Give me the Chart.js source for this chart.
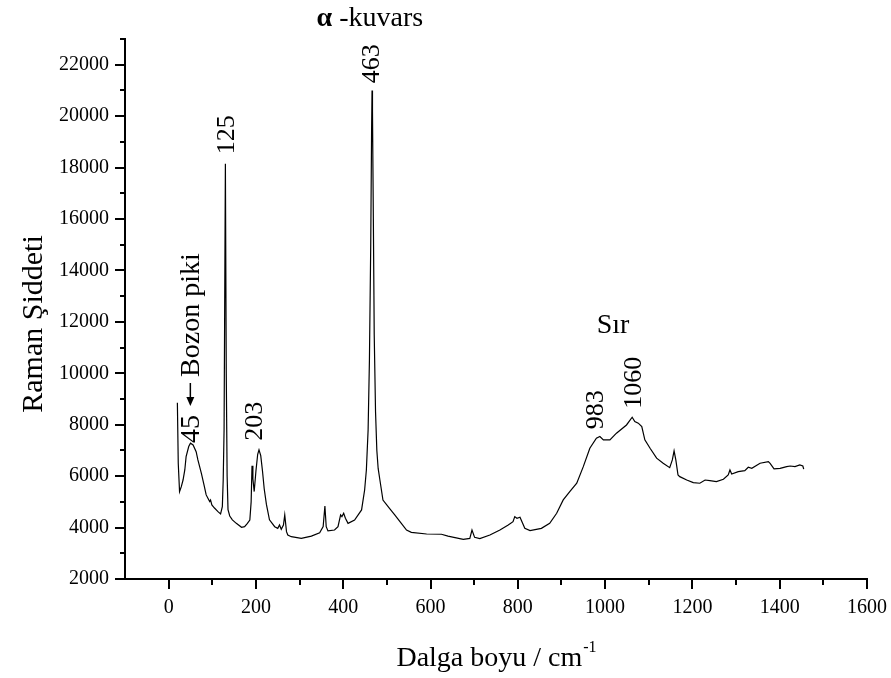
<!DOCTYPE html>
<html>
<head>
<meta charset="utf-8">
<script src="https://cdn.jsdelivr.net/npm/chart.js@4.4.0/dist/chart.umd.min.js"></script>
<style>
  body { margin: 0; background: #fff; }
  #wrap { width: 891px; height: 678px; }
</style>
</head>
<body>
<div id="wrap"><canvas id="raman" width="891" height="678"></canvas></div>
<script>
// Raman spectrum
const wavenumber = [
  20, 22, 25, 29, 33, 37, 40, 46, 50, 56,
  63, 67, 75, 81, 86, 90, 94, 96, 99, 105,
  113, 119, 123, 125, 127, 130, 132, 134, 136, 140,
  146, 155, 167, 174, 180, 186, 189, 191, 193, 196,
  200, 204, 207, 211, 215, 219, 224, 231, 243, 250,
  254, 258, 263, 266, 270, 273, 281, 304, 327, 346,
  354, 358, 361, 365, 380, 388, 394, 397, 401, 405,
  411, 426, 442, 449, 453, 457, 460, 463, 465, 466,
  467, 469, 471, 474, 477, 480, 484, 491, 506, 518,
  530, 545, 556, 591, 625, 640, 675, 690, 695, 701,
  713, 736, 759, 778, 789, 793, 798, 805, 811, 816,
  828, 854, 873, 889, 904, 919, 935, 950, 965, 980,
  988, 996, 1011, 1026, 1049, 1062, 1068, 1076, 1084, 1091,
  1103, 1118, 1133, 1148, 1154, 1158, 1162, 1167, 1171, 1187,
  1202, 1217, 1229, 1240, 1255, 1271, 1282, 1286, 1290, 1305,
  1320, 1328, 1336, 1355, 1374, 1378, 1387, 1401, 1416, 1424,
  1435, 1446, 1453, 1455
];
const intensity = [
  8850, 6500, 5400, 5590, 5850, 6240, 6760, 7150, 7280, 7215,
  6950, 6630, 6110, 5660, 5270, 5140, 5010, 5070, 4880, 4760,
  4620, 4530, 4810, 5850, 7800, 18150, 10000, 6000, 4700, 4450,
  4300, 4165, 4010, 4035, 4150, 4295, 5000, 6400, 5900, 5400,
  6200, 6850, 7020, 6800, 6200, 5500, 4900, 4300, 4035, 3970,
  4100, 3935, 4100, 4490, 3840, 3710, 3645, 3580, 3670, 3800,
  4035, 4840, 4035, 3870, 3905, 4035, 4490, 4425, 4555, 4360,
  4165, 4295, 4685, 5460, 6240, 7800, 10500, 15000, 19500, 21000,
  20200, 16000, 11500, 8500, 7000, 6300, 5850, 5070, 4750, 4490,
  4230, 3905, 3815, 3750, 3740, 3670, 3545, 3580, 3905, 3620,
  3570, 3710, 3905, 4100, 4230, 4425, 4360, 4400, 4165, 3970,
  3880, 3970, 4165, 4555, 5075, 5400, 5725, 6370, 7085, 7475,
  7540, 7410, 7410, 7670, 7990, 8290, 8120, 8060, 7925, 7410,
  7085, 6700, 6500, 6330, 6630, 6980, 6630, 6045, 5980, 5850,
  5747, 5724, 5850, 5825, 5786, 5880, 6045, 6240, 6085, 6175,
  6215, 6345, 6305, 6500, 6565, 6500, 6280, 6305, 6370, 6395,
  6370, 6435, 6395, 6270
];

// axis ticks
const xMajorTicks = [0, 200, 400, 600, 800, 1000, 1200, 1400, 1600];
const xMinorTicks = [100, 300, 500, 700, 900, 1100, 1300, 1500];
const yMajorTicks = [2000, 4000, 6000, 8000, 10000, 12000, 14000, 16000, 18000, 20000, 22000];
const yMinorTicks = [3000, 5000, 7000, 9000, 11000, 13000, 15000, 17000, 19000, 21000, 23000];

// peak labels: [text, wavenumber, intensity]
const peakLabels = [
  ['463', 466, 22040],
  ['125', 134, 19280],
  ['203', 198, 8130],
  ['983', 979, 8580],
  ['1060', 1066, 9630]
];

const SERIF = "'Liberation Serif', 'Times New Roman', serif";

const points = wavenumber.map((w, i) => ({ x: w, y: intensity[i] }));

const decorations = {
  id: 'decorations',
  afterDraw(chart) {
    const { ctx, chartArea, scales: { x, y } } = chart;
    ctx.save();
    ctx.strokeStyle = '#000';
    ctx.fillStyle = '#000';

    // tick marks (outward)
    ctx.lineWidth = 2;
    const tick = (x1, y1, x2, y2) => {
      ctx.beginPath(); ctx.moveTo(x1, y1); ctx.lineTo(x2, y2); ctx.stroke();
    };
    xMajorTicks.forEach(v => { const p = Math.round(x.getPixelForValue(v)); tick(p, chartArea.bottom, p, chartArea.bottom + 10); });
    xMinorTicks.forEach(v => { const p = Math.round(x.getPixelForValue(v)); tick(p, chartArea.bottom, p, chartArea.bottom + 6); });
    yMajorTicks.forEach(v => { const p = Math.round(y.getPixelForValue(v)); tick(chartArea.left - 10, p, chartArea.left, p); });
    yMinorTicks.forEach(v => { const p = Math.round(y.getPixelForValue(v)); tick(chartArea.left - 5, p, chartArea.left, p); });

    // rotated peak labels
    ctx.font = '26px ' + SERIF;
    ctx.textAlign = 'center';
    ctx.textBaseline = 'middle';
    peakLabels.forEach(([t, wx, wy]) => {
      ctx.save();
      ctx.translate(x.getPixelForValue(wx), y.getPixelForValue(wy));
      ctx.rotate(-Math.PI / 2);
      ctx.fillText(t, 0, 0);
      ctx.restore();
    });

    // boson peak label "45 <- Bozon piki", reading upwards from the 45 peak
    ctx.save();
    ctx.translate(x.getPixelForValue(52), y.getPixelForValue(7290));
    ctx.rotate(-Math.PI / 2);
    ctx.textAlign = 'left';
    ctx.font = '28px ' + SERIF;
    const w45 = ctx.measureText('45').width;
    ctx.fillText('45', 0, 0);
    // arrow pointing back to the peak
    const a0 = w45 + 9, a1 = w45 + 32;
    ctx.lineWidth = 1.5;
    ctx.beginPath(); ctx.moveTo(a0 + 6, -1); ctx.lineTo(a1, -1); ctx.stroke();
    ctx.beginPath();
    ctx.moveTo(a0, -1); ctx.lineTo(a0 + 9, -5); ctx.lineTo(a0 + 9, 3); ctx.closePath();
    ctx.fill();
    ctx.fillText('Bozon piki', a1 + 6, 0);
    ctx.restore();

    // glaze label
    ctx.font = '28px ' + SERIF;
    ctx.textAlign = 'center';
    ctx.textBaseline = 'alphabetic';
    ctx.fillText('S\u0131r', x.getPixelForValue(1018), y.getPixelForValue(11550));

    // alpha-quartz title
    const cx = x.getPixelForValue(461);
    ctx.font = 'bold 28px ' + SERIF;
    const wA = ctx.measureText('\u03b1').width;
    ctx.font = '28px ' + SERIF;
    const wRest = ctx.measureText(' -kuvars').width;
    const sx = cx - (wA + wRest) / 2;
    ctx.textAlign = 'left';
    ctx.font = 'bold 28px ' + SERIF;
    ctx.fillText('\u03b1', sx, 26);
    ctx.font = '28px ' + SERIF;
    ctx.fillText(' -kuvars', sx + wA, 26);

    // x axis title with superscript
    ctx.font = '28px ' + SERIF;
    const main = 'Dalga boyu / cm';
    const wMain = ctx.measureText(main).width;
    ctx.font = '16px ' + SERIF;
    const wSup = ctx.measureText('-1').width;
    const tx = 496 - (wMain + wSup) / 2;
    ctx.font = '28px ' + SERIF;
    ctx.fillText(main, tx, 666);
    ctx.font = '16px ' + SERIF;
    ctx.fillText('-1', tx + wMain + 1, 652);

    // y axis title
    ctx.save();
    ctx.translate(42, 324);
    ctx.rotate(-Math.PI / 2);
    ctx.textAlign = 'center';
    ctx.font = '30px ' + SERIF;
    ctx.fillText('Raman \u015eiddeti', 0, 0);
    ctx.restore();

    ctx.restore();
  }
};

new Chart(document.getElementById('raman'), {
  type: 'line',
  data: {
    datasets: [{
      data: points,
      borderColor: '#000',
      borderWidth: 1.2,
      pointRadius: 0,
      tension: 0,
      fill: false
    }]
  },
  options: {
    responsive: false,
    animation: false,
    layout: { padding: { top: 39, right: 24, left: 0, bottom: 0 } },
    plugins: { legend: { display: false }, tooltip: { enabled: false } },
    scales: {
      x: {
        type: 'linear',
        min: -100,
        max: 1600,
        afterBuildTicks: s => { s.ticks = xMajorTicks.map(v => ({ value: v })); },
        afterFit: s => { s.height = 99; s.paddingLeft = 0; s.paddingRight = 0; },
        grid: { display: false, drawTicks: false },
        border: { display: true, color: '#000', width: 2 },
        ticks: { color: '#000', padding: 17, maxRotation: 0, callback: v => String(v), font: { family: SERIF, size: 20 } }
      },
      y: {
        min: 2000,
        max: 23000,
        afterBuildTicks: s => { s.ticks = yMajorTicks.map(v => ({ value: v })); },
        afterFit: s => { s.width = 125; s.paddingTop = 0; s.paddingBottom = 0; },
        grid: { display: false, drawTicks: false },
        border: { display: true, color: '#000', width: 2 },
        ticks: { color: '#000', padding: 16, callback: v => String(v), font: { family: SERIF, size: 20 } }
      }
    }
  },
  plugins: [decorations]
});
</script>
</body>
</html>
